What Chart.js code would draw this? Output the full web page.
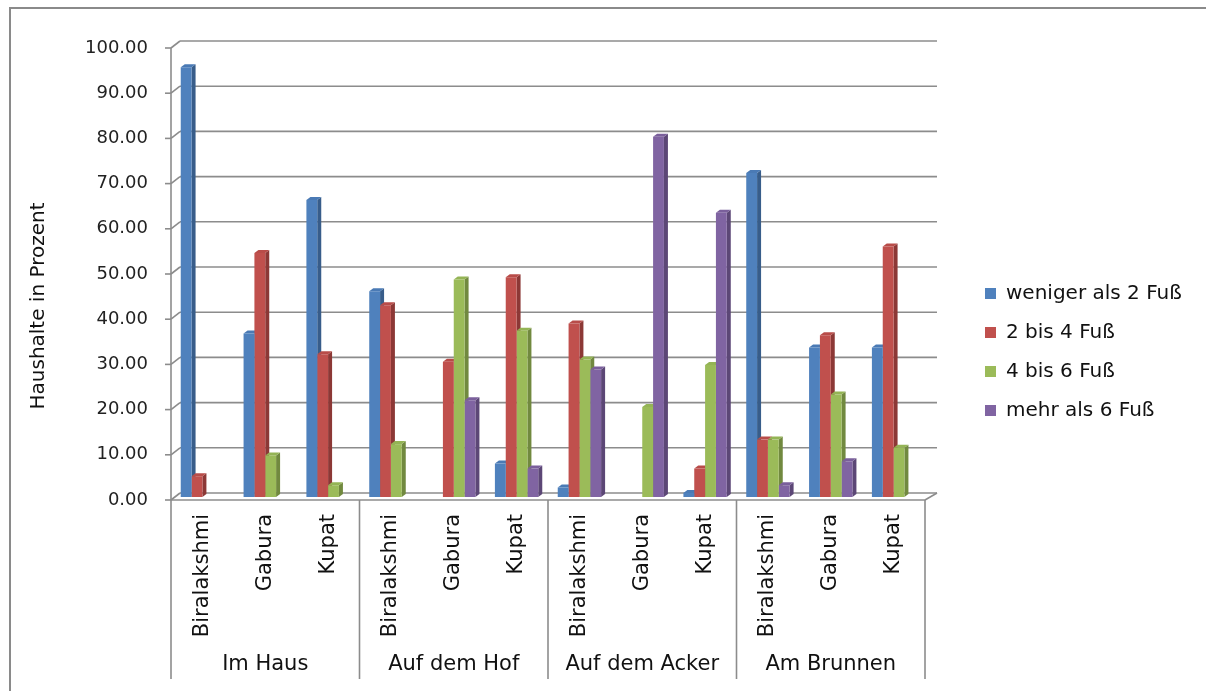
<!DOCTYPE html>
<html>
<head>
<meta charset="utf-8">
<script src="https://cdn.jsdelivr.net/npm/chart.js@4/dist/chart.umd.min.js"></script>
<style>
html,body{margin:0;padding:0;background:#fff;}
#wrap{width:1206px;height:691px;position:relative;}
</style>
</head>
<body>
<div id="wrap"><canvas id="c" width="1206" height="691"></canvas></div>
<script>
// ---- data ----
const groups = ['Im Haus', 'Auf dem Hof', 'Auf dem Acker', 'Am Brunnen'];
const villages = ['Biralakshmi', 'Gabura', 'Kupat'];
const categories = groups.flatMap(() => villages);
const seriesNames = ['weniger als 2 Fuß', '2 bis 4 Fuß', '4 bis 6 Fuß', 'mehr als 6 Fuß'];
const weniger2 = [95.1, 36.2, 65.7, 45.5, 0, 7.4, 2.1, 0, 0.9, 71.7, 33.1, 33.1];
const bis4     = [4.6, 54.0, 31.6, 42.4, 29.9, 48.6, 38.4, 0, 6.3, 12.7, 35.8, 55.4];
const bis6     = [0, 9.2, 2.6, 11.7, 48.1, 36.8, 30.4, 19.9, 29.2, 12.7, 22.7, 10.9];
const mehr6    = [0, 0, 0, 0, 21.4, 6.3, 28.2, 79.7, 62.9, 2.6, 7.9, 0];
const yTitle = 'Haushalte in Prozent';

// ---- styles ----
const FONT = "'DejaVu Sans', 'Liberation Sans', sans-serif";
const frontColors = ['#4F81BD', '#C0504D', '#9BBB59', '#8064A2'];
const sideColors  = ['#385D8A', '#8C3836', '#71893F', '#5C4776'];
const capColors   = ['#4A7AB5', '#B84C49', '#94B455', '#7A5F9B'];
const GRID = '#8c8c8c';

const seriesData = [weniger2, bis4, bis6, mehr6];

// 3D side faces and caps (drawn behind fronts)
const bar3d = {
  id: 'bar3d',
  beforeDatasetsDraw(chart) {
    const ctx = chart.ctx, DX = 4, DY = 3;
    const metas = chart.data.datasets.map((d, i) => chart.getDatasetMeta(i));
    ctx.save();
    metas.forEach((meta, di) => {
      meta.data.forEach((el, j) => {
        if (!(seriesData[di][j] > 0)) return;
        const r = el.x + el.width / 2;
        ctx.fillStyle = sideColors[di];
        ctx.beginPath();
        ctx.moveTo(r, el.y); ctx.lineTo(r + DX, el.y - DY);
        ctx.lineTo(r + DX, el.base - DY); ctx.lineTo(r, el.base);
        ctx.closePath(); ctx.fill();
      });
    });
    metas.forEach((meta, di) => {
      meta.data.forEach((el, j) => {
        if (!(seriesData[di][j] > 0)) return;
        const l = el.x - el.width / 2, r = el.x + el.width / 2;
        ctx.fillStyle = capColors[di];
        ctx.beginPath();
        ctx.moveTo(l, el.y); ctx.lineTo(l + DX, el.y - DY);
        ctx.lineTo(r + DX, el.y - DY); ctx.lineTo(r, el.y);
        ctx.closePath(); ctx.fill();
      });
    });
    ctx.restore();
  }
};

// walls, gridlines, floor
const walls = {
  id: 'walls',
  beforeDatasetsDraw(chart) {
    const ctx = chart.ctx, a = chart.chartArea, y = chart.scales.y;
    const DXL = 9, BACK = 4, FRONT = 3, RX = 12;
    const line = (x1, y1, x2, y2) => { ctx.beginPath(); ctx.moveTo(x1, y1); ctx.lineTo(x2, y2); ctx.stroke(); };
    ctx.save();
    ctx.strokeStyle = GRID; ctx.lineWidth = 1.6;
    y.ticks.forEach(t => {
      const p = y.getPixelForValue(t.value);
      line(a.left + DXL, p - BACK, a.right + RX, p - BACK);
      line(a.left, p + FRONT, a.left + DXL, p - BACK);
      line(a.left - 6, p + FRONT, a.left, p + FRONT);
    });
    const top = y.getPixelForValue(y.max) + FRONT;
    const f = y.getPixelForValue(0) + FRONT;
    line(a.left, top, a.left, f);
    line(a.left, f, a.right, f);
    line(a.right, f, a.right + RX, y.getPixelForValue(0) - BACK);
    ctx.restore();
  }
};

// group separators & labels, y title, outer border
const extras = {
  id: 'extras',
  afterDraw(chart) {
    const ctx = chart.ctx, x = chart.scales.x, y = chart.scales.y;
    const f = y.getPixelForValue(0) + 3;
    const catW = x.getPixelForValue(1) - x.getPixelForValue(0);
    const n = villages.length;
    ctx.save();
    ctx.strokeStyle = GRID; ctx.lineWidth = 1.6;
    for (let g = 0; g <= groups.length; g++) {
      const px = x.getPixelForValue(g * n) - catW / 2;
      ctx.beginPath(); ctx.moveTo(px, f); ctx.lineTo(px, 679); ctx.stroke();
    }
    ctx.fillStyle = '#111';
    ctx.font = '21px ' + FONT;
    ctx.textAlign = 'center'; ctx.textBaseline = 'middle';
    groups.forEach((gName, g) => {
      const cx = (x.getPixelForValue(g * n) + x.getPixelForValue(g * n + n - 1)) / 2;
      ctx.fillText(gName, cx, 665);
    });
    ctx.save();
    ctx.translate(39, 306);
    ctx.rotate(-Math.PI / 2);
    ctx.font = '20px ' + FONT;
    ctx.fillText(yTitle, 0, 0);
    ctx.restore();
    ctx.strokeStyle = '#8a8a8a'; ctx.lineWidth = 2;
    ctx.beginPath(); ctx.moveTo(10, 691); ctx.lineTo(10, 8); ctx.lineTo(1206, 8); ctx.stroke();
    ctx.restore();
  }
};

// legend placement
const legendPlace = {
  id: 'legendPlace',
  beforeLayout(chart) {
    const lg = chart.legend;
    if (lg && !lg._patched) {
      const orig = lg.fit;
      lg.fit = function () { orig.call(this); this.width = 281; };
      lg._patched = true;
    }
  },
  afterLayout(chart) {
    const lg = chart.legend;
    if (lg) { lg.left += 41; lg.top -= 16; lg.bottom -= 16; }
  }
};

new Chart(document.getElementById('c'), {
  type: 'bar',
  data: {
    labels: categories,
    datasets: seriesNames.map((name, i) => ({
      label: name,
      data: seriesData[i],
      backgroundColor: frontColors[i],
      borderWidth: 0,
      categoryPercentage: 0.69,
      barPercentage: 1.0
    }))
  },
  options: {
    responsive: false,
    animation: false,
    devicePixelRatio: 1,
    layout: { padding: { top: 45, left: 0, right: 0, bottom: 0 } },
    plugins: {
      legend: {
        position: 'right',
        labels: { font: { family: FONT, size: 20 }, color: '#111', boxWidth: 11, boxHeight: 11, padding: 19 }
      },
      tooltip: { enabled: false }
    },
    scales: {
      x: {
        grid: { display: false, drawTicks: false },
        border: { display: false },
        ticks: { autoSkip: false, maxRotation: 90, minRotation: 90, padding: 17, font: { family: FONT, size: 21 }, color: '#111' },
        afterFit(s) { s.height = 194; }
      },
      y: {
        min: 0, max: 100,
        grid: { display: false, drawTicks: false },
        border: { display: false },
        ticks: { stepSize: 10, padding: 23, labelOffset: 3, font: { family: FONT, size: 18 }, color: '#222', callback: v => v.toFixed(2) },
        afterFit(s) { s.width = 171; }
      }
    }
  },
  plugins: [legendPlace, walls, bar3d, extras]
});
</script>
</body>
</html>
